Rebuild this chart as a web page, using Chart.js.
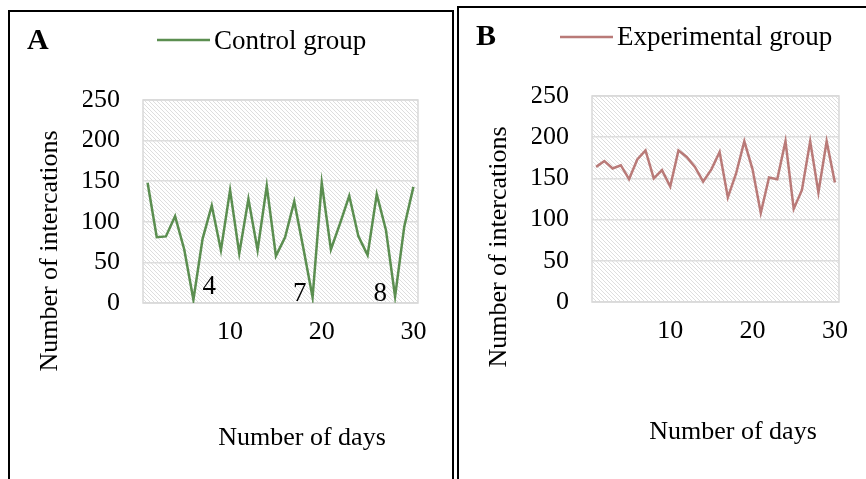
<!DOCTYPE html>
<html>
<head>
<meta charset="utf-8">
<script src="https://cdn.jsdelivr.net/npm/chart.js@4.4.1/dist/chart.umd.min.js"></script>
<style>
  body { margin: 0; background: #fff; }
  .wrap { position: relative; width: 866px; height: 479px; overflow: hidden; }
  .frame { position: absolute; box-sizing: border-box; border: 2px solid #000; }
  #frameA { left: 8px; top: 10px; width: 446px; height: 500px; }
  #frameB { left: 457px; top: 6px; width: 440px; height: 500px; }
  canvas { position: absolute; top: 0; }
  #chartA { left: 0; }
  #chartB { left: 455px; }
</style>
</head>
<body>
<div class="wrap">
  <div class="frame" id="frameA"></div>
  <div class="frame" id="frameB"></div>
  <canvas id="chartA" width="455" height="479"></canvas>
  <canvas id="chartB" width="411" height="479"></canvas>
</div>
<script>
// days 1..30 (category axis)
const days = ['1', '2', '3', '4', '5', '6', '7', '8', '9', '10',
  '11', '12', '13', '14', '15', '16', '17', '18', '19', '20',
  '21', '22', '23', '24', '25', '26', '27', '28', '29', '30'];

// number of interactions per day
const controlGroup = [148, 81, 82, 107, 66, 4, 79, 120, 65, 139,
  61, 128, 65, 144, 58, 81, 125, 67, 7, 148,
  66, 98, 132, 82, 59, 134, 90, 8, 94, 143];
const experimentalGroup = [164, 171, 162, 166, 149, 173, 184, 150, 160, 140,
  184, 176, 164, 146, 161, 182, 127, 156, 195, 161,
  108, 151, 149, 195, 113, 136, 195, 133, 195, 145];

const yTicks = [0, 50, 100, 150, 200, 250];
const xTickLabels = ['10', '20', '30'];

// low points in the control group that carry a label
const controlNoteDays = ['6', '19', '28'];
const controlNoteTexts = ['4', '7', '8'];

const FONT = '"Liberation Serif", "Times New Roman", serif';

// light grey diagonal hatch used as plot background
function makeHatch() {
  const c = document.createElement('canvas');
  c.width = 4; c.height = 4;
  const g = c.getContext('2d');
  g.fillStyle = '#ffffff';
  g.fillRect(0, 0, 4, 4);
  g.fillStyle = '#dedede';
  for (let i = 0; i < 4; i++) g.fillRect(i, i, 1, 1);
  return c;
}
const hatchTile = makeHatch();

const panelDecor = {
  id: 'panelDecor',
  beforeDraw(chart) {
    const { ctx, chartArea: a } = chart;
    ctx.save();
    ctx.fillStyle = ctx.createPattern(hatchTile, 'repeat');
    ctx.fillRect(a.left, a.top, a.right - a.left, a.bottom - a.top);
    ctx.restore();
  },
  beforeDatasetsDraw(chart) {
    const { ctx, chartArea: a } = chart;
    ctx.save();
    ctx.strokeStyle = '#d9d9d9';
    ctx.lineWidth = 1.5;
    ctx.strokeRect(a.left, a.top, a.right - a.left, a.bottom - a.top);
    ctx.restore();
  },
  afterDatasetsDraw(chart, args, o) {
    if (!o.notes) return;
    const ctx = chart.ctx;
    const x = chart.scales.x, y = chart.scales.y;
    const data = chart.data.datasets[0].data;
    ctx.save();
    ctx.fillStyle = '#000';
    ctx.font = '27px ' + FONT;
    ctx.textBaseline = 'alphabetic';
    o.notes.days.forEach((d, i) => {
      const idx = chart.data.labels.indexOf(d);
      const off = o.notes.offsets[i];
      ctx.textAlign = off.align;
      ctx.fillText(o.notes.texts[i], x.getPixelForValue(idx) + off.dx, y.getPixelForValue(data[idx]) + off.dy);
    });
    ctx.restore();
  },
  afterDraw(chart, args, o) {
    const ctx = chart.ctx;
    const ds = chart.data.datasets[0];
    ctx.save();
    ctx.fillStyle = '#000';
    ctx.textBaseline = 'alphabetic';
    ctx.textAlign = 'left';
    // panel letter
    ctx.font = 'bold 30px ' + FONT;
    ctx.fillText(o.letter, o.letterX, o.letterY);
    // legend entry
    ctx.strokeStyle = ds.borderColor;
    ctx.lineWidth = ds.borderWidth;
    ctx.beginPath();
    ctx.moveTo(o.legendX, o.legendLineY);
    ctx.lineTo(o.legendX + 53, o.legendLineY);
    ctx.stroke();
    ctx.font = '27px ' + FONT;
    ctx.fillText(ds.label, o.legendX + 57, o.legendY);
    // axis titles
    ctx.font = '26px ' + FONT;
    ctx.textAlign = 'center';
    ctx.fillText(o.xTitle, o.xTitleX, o.xTitleY);
    ctx.translate(o.yTitleX, o.yTitleY);
    ctx.rotate(-Math.PI / 2);
    ctx.fillText(o.yTitle, 0, 0);
    ctx.restore();
  }
};

function buildOptions(padding, decor) {
  return {
    responsive: false,
    animation: false,
    layout: { padding: padding },
    plugins: {
      legend: { display: false },
      tooltip: { enabled: false },
      panelDecor: decor
    },
    scales: {
      x: {
        type: 'category',
        offset: true,
        grid: { display: false, drawTicks: false },
        border: { display: false },
        afterFit: (s) => { s.height = 50; },
        ticks: {
          autoSkip: false,
          maxRotation: 0,
          minRotation: 0,
          padding: 14,
          color: '#000',
          font: { family: FONT, size: 26 },
          callback: function (value) {
            const lab = this.getLabelForValue(value);
            return xTickLabels.includes(lab) ? lab : '';
          }
        }
      },
      y: {
        min: 0,
        max: 250,
        afterBuildTicks: (s) => { s.ticks = yTicks.map(v => ({ value: v })); },
        afterFit: (s) => { s.width = 60; },
        grid: { color: '#dedede', lineWidth: 1.5, drawTicks: false },
        border: { display: false },
        ticks: {
          padding: 23,
          color: '#000',
          font: { family: FONT, size: 26 }
        }
      }
    }
  };
}

new Chart(document.getElementById('chartA'), {
  type: 'line',
  data: {
    labels: days,
    datasets: [{
      label: 'Control group',
      data: controlGroup,
      borderColor: '#5b8e50',
      borderWidth: 2.5,
      pointRadius: 0,
      tension: 0
    }]
  },
  options: buildOptions(
    { left: 83, right: 37, top: 100, bottom: 126 },
    {
      letter: 'A', letterX: 27, letterY: 49,
      legendX: 157, legendLineY: 40, legendY: 49,
      xTitle: 'Number of days', xTitleX: 302, xTitleY: 445,
      yTitle: 'Number of intercations', yTitleX: 57, yTitleY: 251,
      notes: {
        days: controlNoteDays,
        texts: controlNoteTexts,
        offsets: [{ dx: 9, dy: -6, align: 'left' }, { dx: -6, dy: 4, align: 'right' }, { dx: -8, dy: 4, align: 'right' }]
      }
    }
  ),
  plugins: [panelDecor]
});

new Chart(document.getElementById('chartB'), {
  type: 'line',
  data: {
    labels: days,
    datasets: [{
      label: 'Experimental group',
      data: experimentalGroup,
      borderColor: '#b97a78',
      borderWidth: 2.5,
      pointRadius: 0,
      tension: 0
    }]
  },
  options: buildOptions(
    { left: 77, right: 27, top: 96, bottom: 127 },
    {
      letter: 'B', letterX: 21, letterY: 45,
      legendX: 105, legendLineY: 37, legendY: 45,
      xTitle: 'Number of days', xTitleX: 278, xTitleY: 439,
      yTitle: 'Number of intercations', yTitleX: 51, yTitleY: 247
    }
  ),
  plugins: [panelDecor]
});
</script>
</body>
</html>
